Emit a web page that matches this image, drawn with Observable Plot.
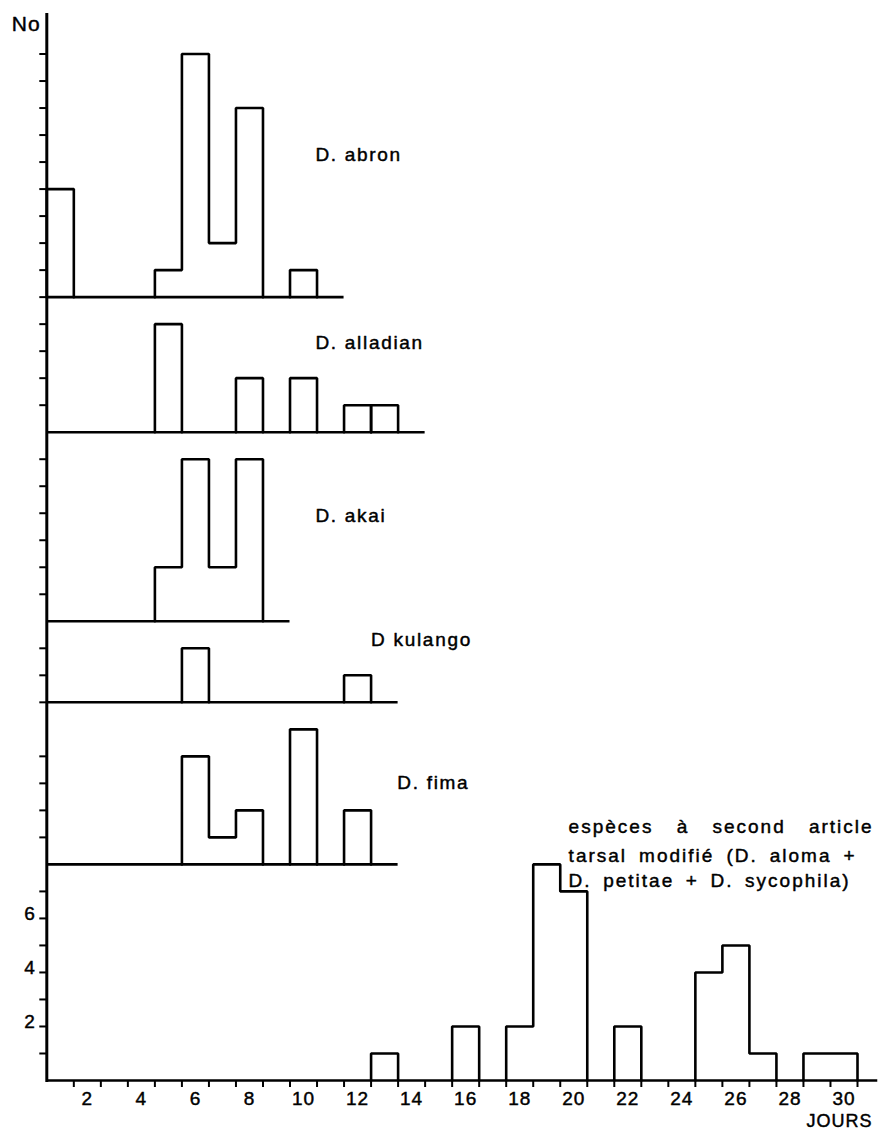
<!DOCTYPE html>
<html>
<head>
<meta charset="utf-8">
<script src="https://cdn.jsdelivr.net/npm/d3@7"></script>
<script src="https://cdn.jsdelivr.net/npm/@observablehq/plot@0.6"></script>
<style>
  html, body { margin: 0; padding: 0; background: #fff; }
  svg { display: block; }
</style>
</head>
<body>
<div id="chart"></div>
<script>
// ---------------- DATA ----------------
const xTickLabels = [2, 4, 6, 8, 10, 12, 14, 16, 18, 20, 22, 24, 26, 28, 30];
const yTickLabels = [2, 4, 6];
const yAxisTitle = "No";
const xAxisTitle = "JOURS";

const abronDays = [1, 5, 6, 7, 8, 10];
const abronCounts = [4, 1, 9, 2, 7, 1];

const alladianDays = [5, 8, 10, 12, 13];
const alladianCounts = [4, 2, 2, 1, 1];

const akaiDays = [5, 6, 7, 8];
const akaiCounts = [2, 6, 2, 6];

const kulangoDays = [6, 12];
const kulangoCounts = [2, 1];

const fimaDays = [6, 7, 8, 10, 12];
const fimaCounts = [4, 1, 2, 5, 2];

const tarsalDays = [13, 16, 18, 19, 20, 22, 25, 26, 27, 29, 30];
const tarsalCounts = [1, 2, 2, 8, 7, 2, 4, 5, 1, 1, 1];

const speciesNames = ["D. abron", "D. alladian", "D. akai", "D kulango", "D. fima"];
const tarsalLabel = ["espèces à second article", "tarsal modifié (D. aloma +", "D. petitae + D. sycophila)"];

// ---------------- LAYOUT (panel sizes in count units, top to bottom) ----------------
const panels = [
  {name: speciesNames[0], days: abronDays, counts: abronCounts, size: 10.5, nTicks: 9, end: 11.5, lx: 10.44, ly: 5.25, baseTick: true},
  {name: speciesNames[1], days: alladianDays, counts: alladianCounts, size: 5, nTicks: 4, end: 14.5, lx: 10.44, ly: 3.29, split: true},
  {name: speciesNames[2], days: akaiDays, counts: akaiCounts, size: 7, nTicks: 6, end: 9.5, lx: 10.44, ly: 3.9},
  {name: speciesNames[3], days: kulangoDays, counts: kulangoCounts, size: 3, nTicks: 2, end: 13.5, lx: 12.5, ly: 2.3, baseTick: true},
  {name: speciesNames[4], days: fimaDays, counts: fimaCounts, size: 6, nTicks: 4, end: 13.5, lx: 13.47, ly: 3.0},
  {name: "tarsal", days: tarsalDays, counts: tarsalCounts, size: 8, nTicks: 7, end: 31.25, lx: null}
];
{
  let b = 0;
  for (let i = panels.length - 1; i >= 0; --i) { panels[i].base = b; b += panels[i].size; }
}
const yTop = panels[0].base + panels[0].size;

// histogram step outlines built from the data
const outlinePts = [];
panels.forEach((p, pi) => {
  let g = 0, prev = null;
  const close = (right) => outlinePts.push({x: right, y: p.base, g: pi + "-" + g});
  p.days.forEach((d, i) => {
    const c = p.counts[i];
    const newGroup = prev === null || p.split || d !== prev + 1;
    if (prev !== null && newGroup) { close(prev + 0.5); g++; }
    if (newGroup) outlinePts.push({x: d - 0.5, y: p.base, g: pi + "-" + g});
    outlinePts.push({x: d - 0.5, y: p.base + c, g: pi + "-" + g});
    outlinePts.push({x: d + 0.5, y: p.base + c, g: pi + "-" + g});
    prev = d;
  });
  close(prev + 0.5);
});

const yTicks = [];
panels.forEach(p => {
  for (let k = 1; k <= p.nTicks; ++k) yTicks.push(p.base + k);
  if (p.baseTick) yTicks.push(p.base);
});
const xEdgeTicks = d3.range(1, 31).map(d => d + 0.5);

const tarsalY = [9.38, 8.33, 7.4];
const tarsalX = 19.81;
const tarsalWidths = [305, 288, 282];

const font = "'Liberation Sans', Arial, Helvetica, sans-serif";
const bold = {fill: "black", stroke: "black", strokeWidth: 0.45, paintOrder: "fill"};

const chart = Plot.plot({
  width: 878,
  height: 1131,
  marginLeft: 46.3,
  marginRight: 21,
  marginTop: 13,
  marginBottom: 51,
  x: {domain: [0.5, 30.5], axis: null},
  y: {domain: [0, yTop], axis: null},
  style: {fontFamily: font, fontSize: "19px", color: "black", background: "white", letterSpacing: "1px"},
  marks: [
    Plot.ruleY(panels, {y: "base", x1: 0.5, x2: "end", stroke: "black", strokeWidth: 2.6}),
    Plot.line(outlinePts, {x: "x", y: "y", z: "g", stroke: "black", strokeWidth: 2.6, strokeLinejoin: "miter", curve: "linear"}),
    Plot.ruleX([0.5], {y1: -0.07, y2: yTop, stroke: "black", strokeWidth: 3}),
    Plot.axisY(yTicks, {tickSize: 7, tickFormat: () => "", strokeWidth: 2}),
    Plot.axisY(yTickLabels, {tickSize: 0, tickPadding: 11, dy: -5, fontSize: 19}),
    Plot.axisX(xEdgeTicks, {tickSize: 7, tickFormat: () => "", strokeWidth: 2}),
    Plot.axisX(xTickLabels, {tickSize: 0, tickPadding: 11, fontSize: 19}),
    Plot.text([yAxisTitle], {frameAnchor: "top-left", lineAnchor: "middle", dx: -35, dy: 11, textAnchor: "start", fontSize: 21, ...bold}),
    Plot.text([xAxisTitle], {frameAnchor: "bottom-right", lineAnchor: "bottom", dx: 15, dy: 46, textAnchor: "end", fontSize: 18, ...bold}),
    Plot.text(panels.filter(p => p.lx != null), {x: "lx", y: p => p.base + p.ly, text: "name", textAnchor: "start", lineAnchor: "middle", fontSize: 19, ...bold}),
    Plot.text(tarsalLabel, {x: tarsalX, y: (d, i) => tarsalY[i], text: d => d, textAnchor: "start", lineAnchor: "middle", fontSize: 19, ...bold})
  ]
});

document.getElementById("chart").appendChild(chart);

// slightly wider letter spacing for the in-plot labels
d3.select(chart).selectAll("text").each(function() {
  if (speciesNames.includes(this.textContent)) this.style.letterSpacing = "1.7px";
});

// embolden axis labels slightly (the reference is heavily inked)
d3.select(chart).selectAll("g[aria-label='y-axis tick label'] text, g[aria-label='x-axis tick label'] text")
  .attr("stroke", "black").attr("stroke-width", 0.45);

// justify the bottom label lines with word spacing
d3.select(chart).selectAll("text").each(function() {
  const i = tarsalLabel.indexOf(this.textContent);
  if (i < 0) return;
  this.style.letterSpacing = "2px";
  const w = this.getBBox().width;
  const spaces = (tarsalLabel[i].match(/ /g) || []).length;
  const extra = Math.max(0, (tarsalWidths[i] - w) / spaces);
  this.style.wordSpacing = extra + "px";
});
</script>
</body>
</html>
